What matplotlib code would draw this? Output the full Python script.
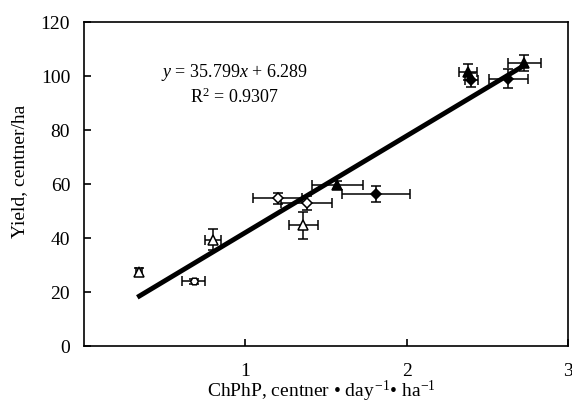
import matplotlib.pyplot as plt
import matplotlib as mpl
import numpy as np

mpl.rcParams.update({
    "font.family": ["Liberation Serif", "DejaVu Serif"],
    "mathtext.fontset": "custom",
    "mathtext.rm": "Liberation Serif",
    "mathtext.it": "Liberation Serif:italic",
})

# point groups: (x, y, xerr, yerr)
open_tri_x = [0.34, 0.80, 1.36]
open_tri_y = [27.4, 39.5, 44.8]
open_tri_xerr = [0.02, 0.05, 0.09]
open_tri_yerr = [1.5, 4.0, 5.0]

open_circ_x = [0.68]
open_circ_y = [24.0]
open_circ_xerr = [0.07]
open_circ_yerr = [1.0]

open_dia_x = [1.20, 1.38]
open_dia_y = [54.8, 53.0]
open_dia_xerr = [0.15, 0.16]
open_dia_yerr = [2.0, 2.5]

fill_tri_x = [1.57, 2.38, 2.73]
fill_tri_y = [59.6, 101.5, 104.8]
fill_tri_xerr = [0.16, 0.055, 0.10]
fill_tri_yerr = [1.5, 3.0, 3.0]

fill_dia_x = [1.81, 2.40, 2.63]
fill_dia_y = [56.3, 98.5, 99.0]
fill_dia_xerr = [0.21, 0.04, 0.12]
fill_dia_yerr = [3.0, 2.5, 3.5]

slope, intercept = 35.799, 6.289
fit_x = [0.33, 2.73]

fig = plt.figure(figsize=(5.72, 4.03), dpi=100)
ax = fig.add_axes([0.147, 0.141, 0.846, 0.804])

groups = [
    (open_tri_x, open_tri_y, open_tri_xerr, open_tri_yerr, "^", "white"),
    (open_circ_x, open_circ_y, open_circ_xerr, open_circ_yerr, "H", "white"),
    (open_dia_x, open_dia_y, open_dia_xerr, open_dia_yerr, "D", "white"),
    (fill_tri_x, fill_tri_y, fill_tri_xerr, fill_tri_yerr, "^", "black"),
    (fill_dia_x, fill_dia_y, fill_dia_xerr, fill_dia_yerr, "D", "black"),
]
for gx, gy, gxe, gye, m, fc in groups:
    ax.errorbar(gx, gy, xerr=gxe, yerr=gye, fmt=m, mfc=fc, mec="black",
                ecolor="black", ms=7.5 if m == "^" else 5.5, elinewidth=1.1,
                capsize=3.5, capthick=1.1, mew=1.1, zorder=3)

fx = np.array(fit_x)
ax.plot(fx, slope * fx + intercept, color="black", lw=3.5, zorder=2, solid_capstyle="butt")

ax.text(0.31, 0.83, r"$y$ = 35.799$x$ + 6.289", transform=ax.transAxes,
        ha="center", fontsize=13)
ax.text(0.31, 0.75, r"R$^2$ = 0.9307", transform=ax.transAxes,
        ha="center", fontsize=13)

ax.set_xlim(0, 3)
ax.set_ylim(0, 120)
ax.set_xticks([1, 2, 3])
ax.set_yticks(range(0, 121, 20))
ax.tick_params(direction="in", length=5, width=1.2, labelsize=14, top=False, right=False)
ax.tick_params(axis="x", pad=12)
ax.tick_params(axis="y", pad=10)
for s in ax.spines.values():
    s.set_linewidth(1.2)
ax.set_ylabel("Yield, centner/ha", fontsize=14)
ax.yaxis.set_label_coords(-0.115, 0.54)
ax.set_xlabel(r"ChPhP, centner • day$^{\,\mathregular{-1}}$• ha$^{\mathregular{-1}}$",
              fontsize=14, labelpad=0)
ax.xaxis.set_label_coords(0.49, -0.1)

fig.savefig("out.png", dpi=100)
